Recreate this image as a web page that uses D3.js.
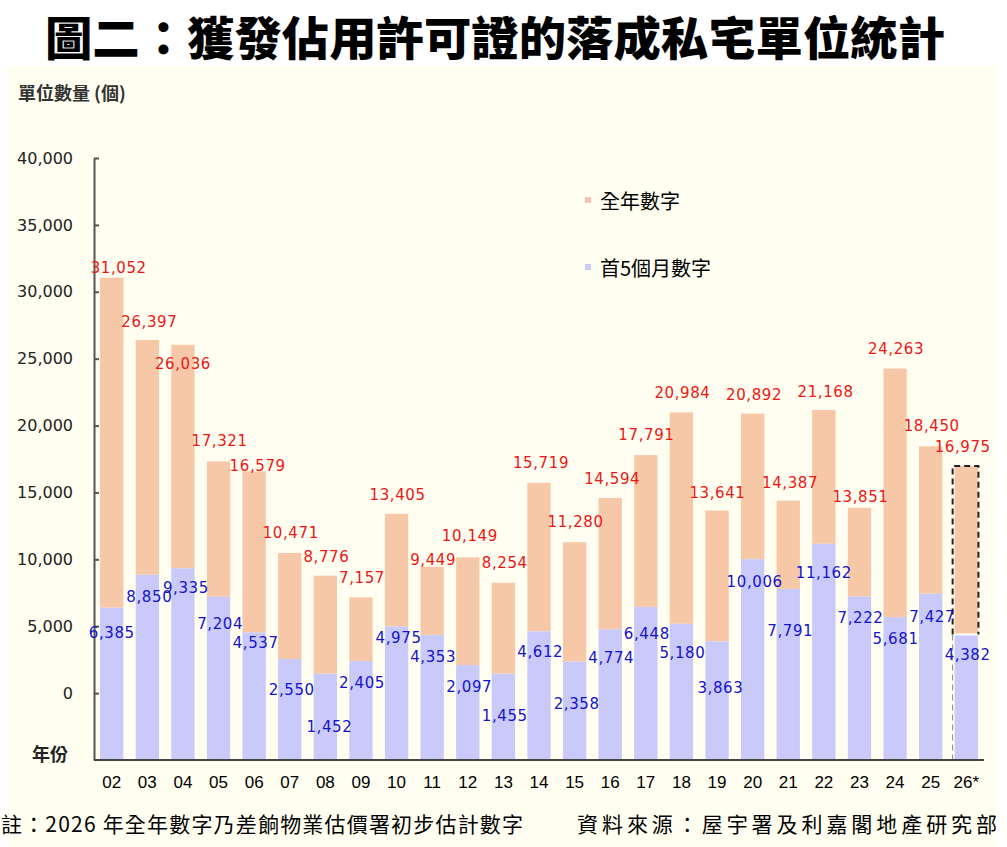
<!DOCTYPE html>
<html>
<head>
<meta charset="utf-8">
<script src="https://cdn.jsdelivr.net/npm/d3@7"></script>
<style>
  html, body { margin: 0; padding: 0; background: #ffffff; }
  svg { display: block; }
</style>
</head>
<body>
<svg id="chart" width="1007" height="847"></svg>
<script>
// ---------- data ----------
const years = ["02","03","04","05","06","07","08","09","10","11","12","13","14","15","16","17","18","19","20","21","22","23","24","25","26*"];
const fullYear = [31052,26397,26036,17321,16579,10471,8776,7157,13405,9449,10149,8254,15719,11280,14594,17791,20984,13641,20892,14387,21168,13851,24263,18450,16975];
const first5Months = [6385,8850,9335,7204,4537,2550,1452,2405,4975,4353,2097,1455,4612,2358,4774,6448,5180,3863,10006,7791,11162,7222,5681,7427,4382];
const yTicks = [0,5000,10000,15000,20000,25000,30000,35000,40000];
const estimateYear = "26*";

const titleText = "圖二：獲發佔用許可證的落成私宅單位統計";
const yTitle = "單位數量 (個)";
const xTitle = "年份";
const legendNames = ["全年數字", "首5個月數字"];
const noteText = "註：2026 年全年數字乃差餉物業估價署初步估計數字";
const sourceText = "資料來源：屋宇署及利嘉閣地產研究部";

// ---------- layout (label nudges in px, to mimic manual placement) ----------
const fullLabelDx = [7,2,0,1,3.5,1,1,1,1,1,2,1.4,2,1,2,0.6,1,0.4,1.4,1.8,1.7,1,1,1,-3.6];
const fullLabelDy = [-10,-18,19,-20,-5,-20,-19,-19,-19,-7,-21,-20,-20,-20,-19,-20,-19,-18,-19,-18,-18,-11,-20,-20,-19];
const firstLabelDx = [0,2,3,1.6,1.5,2,4,1,2,1,1.5,1.4,1.3,2,1,1,1,3.4,2,2,0,1,0.5,1.5,1.4];
const firstLabelDy = [25,22,20,27,11,31,53,22,11,22,22,42,21,42,29,27,29,47,23,42,29,22,22,23,21];

const colFull = "#f7c8a7";
const colFirst = "#c9c9fa";
const colRed = "#ee1515";
const colBlue = "#1414cc";
const cjk = "'Noto Sans CJK TC','Noto Sans CJK SC',sans-serif";
const num = "'DejaVu Sans',sans-serif";

const svg = d3.select("#chart");

// background
svg.append("rect").attr("x", 8).attr("y", 66).attr("width", 987).attr("height", 781)
  .attr("fill", "#fffef0");

// title
svg.append("text")
  .attr("x", 45).attr("y", 55)
  .attr("textLength", 900).attr("lengthAdjust", "spacingAndGlyphs")
  .style("font-family", cjk).style("font-weight", 900).style("font-size", "46px")
  .attr("fill", "#000").text(titleText);

// scales
const x = d3.scaleBand().domain(years).range([94, 984]).paddingInner(0.345).paddingOuter(0.17);
const y = d3.scaleLinear().domain([-5000, 40000]).range([760, 158]);
const base = y.domain()[0];

const data = years.map((yr, i) => ({ yr, i, full: fullYear[i], first: first5Months[i] }));

// bars: full-year portion (stacked above first 5 months)
svg.append("g").selectAll("rect").data(data).join("rect")
  .attr("x", d => x(d.yr)).attr("width", x.bandwidth())
  .attr("y", d => y(d.full))
  .attr("height", d => y(d.first) - y(d.full))
  .attr("fill", colFull);

// bars: first 5 months
svg.append("g").selectAll("rect").data(data).join("rect")
  .attr("x", d => x(d.yr)).attr("width", x.bandwidth())
  .attr("y", d => y(d.first))
  .attr("height", d => y(base) - y(d.first))
  .attr("fill", colFirst);

// estimate outline for 26*
const est = data.find(d => d.yr === estimateYear);
if (est) {
  const x0 = x(est.yr) - 2, x1 = x(est.yr) + x.bandwidth() + 0.5;
  const yt = y(est.full), yb = y(est.first);
  svg.append("line").attr("x1", x0 + 2).attr("x2", x1).attr("y1", yb).attr("y2", yb)
    .attr("stroke", "#ffffff").attr("stroke-width", 2);
  svg.append("path")
    .attr("d", `M${x0},${yb} L${x0},${yt} L${x1},${yt} L${x1},${yb}`)
    .attr("fill", "none").attr("stroke", "#222").attr("stroke-width", 2)
    .attr("stroke-dasharray", "6,4");
  svg.append("line").attr("x1", x0).attr("x2", x0).attr("y1", yb).attr("y2", y(base))
    .attr("stroke", "#888").attr("stroke-width", 1).attr("stroke-dasharray", "6,4");
}

// y axis
const yAxis = svg.append("g").attr("transform", "translate(94,0)")
  .call(d3.axisLeft(y).tickValues(yTicks).tickFormat(d3.format(",")).tickSize(-5).tickSizeOuter(0).tickPadding(21));
yAxis.select(".domain").attr("stroke", "#555").attr("stroke-width", 2);
yAxis.selectAll(".tick line").attr("stroke", "#555").attr("stroke-width", 2);
yAxis.selectAll(".tick text").style("font-family", num).style("font-size", "16px").attr("fill", "#222");

// x axis
const xAxis = svg.append("g").attr("transform", "translate(0,760)")
  .call(d3.axisBottom(x).tickSize(0).tickPadding(16));
xAxis.select(".domain").attr("stroke", "#444").attr("stroke-width", 2).attr("d", "M94,0H984");
xAxis.selectAll(".tick text").style("font-family", "'Liberation Sans',Arial,sans-serif")
  .style("font-size", "17px").attr("fill", "#000");

// value labels
svg.append("g").selectAll("text").data(data).join("text")
  .attr("x", d => x(d.yr) + x.bandwidth() / 2 + fullLabelDx[d.i])
  .attr("y", d => y(d.full) + fullLabelDy[d.i])
  .attr("text-anchor", "middle").attr("dominant-baseline", "central")
  .style("font-family", num).style("font-size", "15px").style("letter-spacing", "0.6px")
  .attr("fill", colRed).text(d => d3.format(",")(d.full));

svg.append("g").selectAll("text").data(data).join("text")
  .attr("x", d => x(d.yr) + x.bandwidth() / 2 + firstLabelDx[d.i])
  .attr("y", d => y(d.first) + firstLabelDy[d.i])
  .attr("text-anchor", "middle").attr("dominant-baseline", "central")
  .style("font-family", num).style("font-size", "15px").style("letter-spacing", "0.6px")
  .attr("fill", colBlue).text(d => d3.format(",")(d.first));

// axis titles
svg.append("text").attr("x", 18).attr("y", 92).attr("dominant-baseline", "central")
  .style("font-family", cjk).style("font-weight", 700).style("font-size", "18px")
  .attr("fill", "#333").text(yTitle);
svg.append("text").attr("x", 32).attr("y", 753).attr("dominant-baseline", "central")
  .style("font-family", cjk).style("font-weight", 700).style("font-size", "18px")
  .attr("fill", "#222").text(xTitle);

// legend
const legend = svg.append("g");
[colFull, colFirst].forEach((c, i) => {
  const ly = 200 + i * 67;
  legend.append("rect").attr("x", 585).attr("y", ly - 3).attr("width", 6).attr("height", 6).attr("fill", c);
  legend.append("text").attr("x", 600).attr("y", ly).attr("dominant-baseline", "central")
    .style("font-family", cjk).style("font-size", "20px").attr("fill", "#000").text(legendNames[i]);
});

// footnotes
svg.append("text").attr("x", 1).attr("y", 823).attr("dominant-baseline", "central")
  .attr("textLength", 522).attr("lengthAdjust", "spacing")
  .style("font-family", cjk).style("font-size", "21px").attr("fill", "#000").text(noteText);
svg.append("text").attr("x", 577).attr("y", 823).attr("dominant-baseline", "central")
  .attr("textLength", 420).attr("lengthAdjust", "spacing")
  .style("font-family", cjk).style("font-size", "21px").attr("fill", "#000").text(sourceText);
</script>
</body>
</html>
